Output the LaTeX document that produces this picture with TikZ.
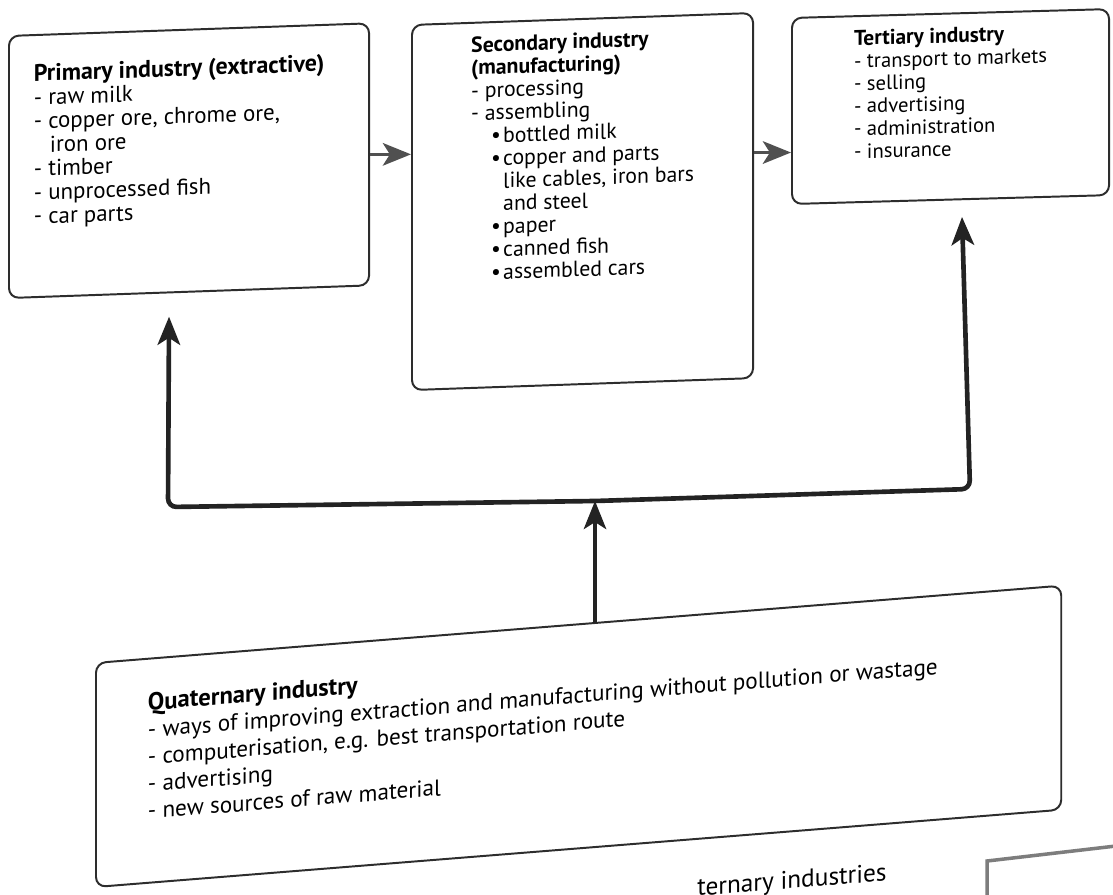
\documentclass[tikz,border=0pt]{standalone}
\usepackage{fontspec}
\setmainfont{PT Sans}
\usetikzlibrary{arrows.meta, positioning, calc}
\usepackage{xcolor}
\definecolor{inkBox}{RGB}{45,45,45}
\definecolor{inkBar}{RGB}{35,35,35}
\definecolor{greyArrow}{RGB}{80,80,80}
\definecolor{scanEdge}{RGB}{125,125,125}
\newcommand{\primfont}{\fontsize{16.3}{16.9}\selectfont}
\newcommand{\secfont}{\fontsize{15.5}{16.2}\selectfont}
\newcommand{\terfont}{\fontsize{14.7}{16.1}\selectfont}
\newcommand{\quatfont}{\fontsize{16.5}{19.3}\selectfont}
\newcommand{\headline}[2]{{\fontsize{#1}{#1}\selectfont\bfseries #2}}
\newcommand{\paneltext}[4]{\parbox[c][#2][t]{#1}{\raggedright\leftskip=#3\relax #4}}
\newcommand{\dotitem}[1]{\hspace*{0.5cm}\makebox[0.3cm][l]{\textbullet}#1}

\begin{document}
\begin{tikzpicture}[
    x=0.025cm, y=-0.025cm,
    panel/.style={rectangle, draw=inkBox, line width=1.4pt, rounded corners=7pt, anchor=north west, inner xsep=0pt},
    sidearr/.style={draw=greyArrow, line width=2.6pt, -{Stealth[length=20pt, width=16pt, inset=5pt]}},
    flow/.style={draw=inkBar, line width=3.3pt, rounded corners=6pt, {Stealth[length=20pt, width=16pt, inset=5pt]}-{Stealth[length=20pt, width=16pt, inset=5pt]}},
    uparr/.style={draw=inkBar, line width=2.4pt, -{Stealth[length=20pt, width=16pt, inset=5pt]}}
]
\fill[white] (0,0) rectangle (1113,895);
\useasboundingbox (0,0) rectangle (1113,895);

% the three sectors along the top
\node[panel, yslant=0.035, inner ysep=0.73cm, font=\primfont] (prim) at (8,35)
  {\paneltext{9cm}{5.09cm}{0.625cm}{\headline{17}{Primary industry (extractive)}\\
   - raw milk\\
   - copper ore, chrome ore,\\
   \hspace*{0.4cm}iron ore\\
   - timber\\
   - unprocessed fish\\
   - car parts}};
\node[panel, yslant=0.035, inner ysep=0.35cm, font=\secfont] (sec) at (411,24)
  {\paneltext{8.525cm}{8.425cm}{1.48cm}{\headline{15.5}{Secondary industry}\\
   \headline{15.5}{(manufacturing)}\\
   - processing\\
   - assembling\\
   \dotitem{bottled milk}\\
   \dotitem{copper and parts}\\
   \hspace*{0.8cm}like cables, iron bars\\
   \hspace*{0.8cm}and steel\\
   \dotitem{paper}\\
   \dotitem{canned fish}\\
   \dotitem{assembled cars}}};
\node[panel, yslant=0.028, inner ysep=0.35cm, font=\terfont] (ter) at (791,17)
  {\paneltext{7.925cm}{3.95cm}{1.55cm}{\headline{15.2}{Tertiary industry}\\
   - transport to markets\\
   - selling\\
   - advertising\\
   - administration\\
   - insurance}};

% quaternary sector underneath
\node[panel, yslant=0.08, inner ysep=0.85cm, font=\quatfont] (quat) at (95,662)
  {\paneltext{24.125cm}{3.9cm}{1.3cm}{\headline{17.5}{Quaternary industry}\\
   - ways of improving extraction and manufacturing without pollution or wastage\\
   - computerisation, e.g. best transportation route\\
   - advertising\\
   - new sources of raw material}};

\node[anchor=base west, yslant=0.08, inner sep=0pt, font=\fontsize{18}{20}\selectfont] (caption) at (697,896) {ternary industries};
\draw[scanEdge, line width=2.5pt] (1116,846) -- (987,861) -- (987,900);

% connectors
\coordinate (hub) at (595,501);
\coordinate (lc) at (168,507);
\coordinate (rc) at (970,489);
\coordinate (s2t) at ([shift={(0,-43)}]sec.east);

\draw[sidearr] (prim.east) -- (prim.east -| sec.west);
\draw[sidearr] (s2t) -- (s2t -| ter.west);
\draw[flow] ([shift={(-20,24)}]prim.south) -- (lc) -- (hub) -- (rc) -- ([shift={(11.5,16.4)}]ter.south);
\draw[uparr] (quat.north -| hub) -- (hub);
\end{tikzpicture}
\end{document}
